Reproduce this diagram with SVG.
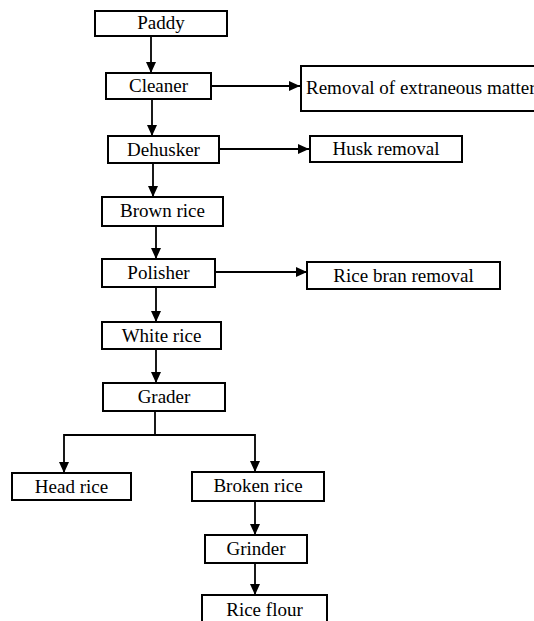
<svg xmlns="http://www.w3.org/2000/svg" width="534" height="621" viewBox="0 0 534 621">
<style>
.box{fill:#fff;stroke:#000;stroke-width:2}
.t{font-family:"Liberation Serif","Times New Roman",serif;font-size:19px;fill:#000;text-anchor:middle}
.c{fill:none;stroke:#000;stroke-width:1.8}
</style>
<defs>
<marker id="ah" markerUnits="userSpaceOnUse" markerWidth="12" markerHeight="10" refX="11" refY="5" orient="auto">
<path d="M0,0 L11,5 L0,10 Z" fill="#000"/>
</marker>
</defs>
<rect width="534" height="621" fill="#fff"/>
<g id="connectors">
<line class="c" x1="151" y1="36" x2="151" y2="73" marker-end="url(#ah)"/>
<line class="c" x1="211" y1="86" x2="300" y2="86" marker-end="url(#ah)"/>
<line class="c" x1="152" y1="99" x2="152" y2="136" marker-end="url(#ah)"/>
<line class="c" x1="219" y1="149" x2="309" y2="149" marker-end="url(#ah)"/>
<line class="c" x1="153" y1="163" x2="153" y2="197" marker-end="url(#ah)"/>
<line class="c" x1="156" y1="226" x2="156" y2="259" marker-end="url(#ah)"/>
<line class="c" x1="215" y1="272" x2="307" y2="272" marker-end="url(#ah)"/>
<line class="c" x1="156" y1="287" x2="156" y2="322" marker-end="url(#ah)"/>
<line class="c" x1="156" y1="349" x2="156" y2="383" marker-end="url(#ah)"/>
<polyline class="c" points="155,411 155,435"/>
<polyline class="c" points="155,435 64,435 64,473" marker-end="url(#ah)"/>
<polyline class="c" points="155,435 255,435 255,472" marker-end="url(#ah)"/>
<line class="c" x1="255" y1="501" x2="255" y2="535" marker-end="url(#ah)"/>
<line class="c" x1="255" y1="563" x2="255" y2="595" marker-end="url(#ah)"/>
</g>
<g id="paddy"><rect class="box" x="95" y="11" width="132" height="25"/><text class="t" x="161" y="29">Paddy</text></g>
<g id="cleaner"><rect class="box" x="106" y="73" width="105" height="26"/><text class="t" x="158.5" y="92">Cleaner</text></g>
<g id="removal"><rect class="box" x="301" y="66" width="250" height="45"/><text class="t" x="306" y="94" style="text-anchor:start">Removal of extraneous matter</text></g>
<g id="dehusker"><rect class="box" x="108" y="136" width="111" height="27"/><text class="t" x="163.5" y="155.5">Dehusker</text></g>
<g id="husk"><rect class="box" x="310" y="136" width="152" height="26"/><text class="t" x="386" y="155">Husk removal</text></g>
<g id="brown"><rect class="box" x="102" y="197" width="121" height="29"/><text class="t" x="162.5" y="217">Brown rice</text></g>
<g id="polisher"><rect class="box" x="102" y="259" width="113" height="28"/><text class="t" x="158.5" y="279">Polisher</text></g>
<g id="bran"><rect class="box" x="307" y="262" width="193" height="27"/><text class="t" x="403.5" y="281.5">Rice bran removal</text></g>
<g id="white"><rect class="box" x="102" y="322" width="119" height="27"/><text class="t" x="161.5" y="341.5">White rice</text></g>
<g id="grader"><rect class="box" x="103" y="383" width="122" height="28"/><text class="t" x="164" y="403">Grader</text></g>
<g id="head"><rect class="box" x="12" y="473" width="119" height="27"/><text class="t" x="71.5" y="492.5">Head rice</text></g>
<g id="broken"><rect class="box" x="192" y="472" width="132" height="29"/><text class="t" x="258" y="492">Broken rice</text></g>
<g id="grinder"><rect class="box" x="205" y="535" width="102" height="28"/><text class="t" x="256" y="555">Grinder</text></g>
<g id="flour"><rect class="box" x="202" y="595" width="125" height="40"/><text class="t" x="264.5" y="616">Rice flour</text></g>
</svg>
